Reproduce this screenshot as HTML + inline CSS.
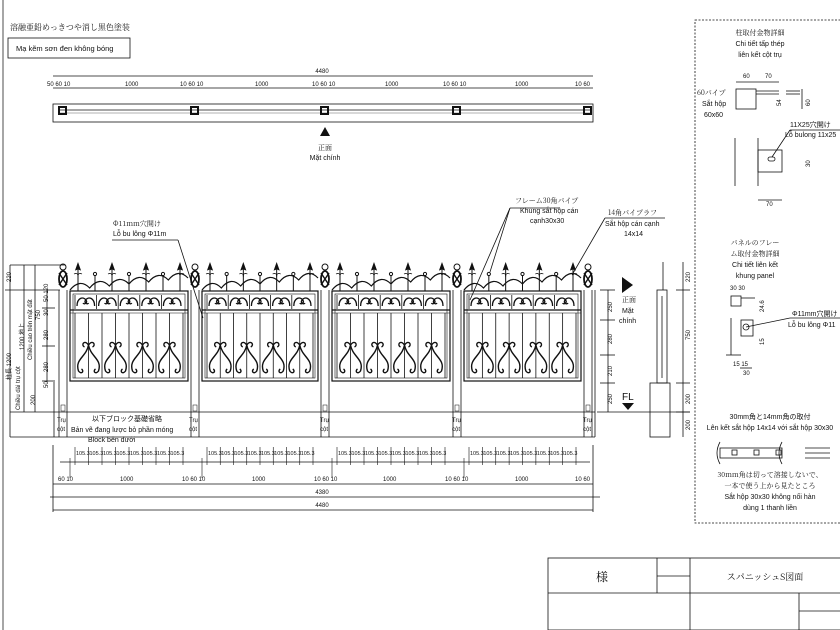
<!DOCTYPE html>
<html><head><meta charset="utf-8"><style>
html,body{margin:0;padding:0;background:#fff;}
svg{display:block;font-family:"Liberation Sans","Noto Sans CJK JP",sans-serif;}
.t{font-size:7px;fill:#111;}
.s{font-size:6px;fill:#111;}
.j{font-family:"Noto Serif CJK SC","Liberation Serif",serif;}
</style></head><body>
<svg id="d" width="840" height="630" viewBox="0 0 840 630" xmlns="http://www.w3.org/2000/svg">
<g stroke="#111" fill="none" stroke-width="0.8">
<line x1="3" y1="0" x2="3" y2="630" stroke="#888" stroke-width="1.5"/>
<rect x="8" y="38" width="122" height="20"/>
<line x1="53" y1="76" x2="593" y2="76"/>
<line x1="53" y1="88" x2="593" y2="88"/>
<rect x="53" y="104" width="540" height="18"/>
<line x1="60" y1="110" x2="590" y2="110"/>
<line x1="60" y1="113" x2="590" y2="113" stroke="#999"/>
<rect x="695" y="20" width="150" height="503" stroke-dasharray="2,1.5"/>
<rect x="548" y="558" width="300" height="72"/>
<line x1="548" y1="593" x2="840" y2="593"/>
<line x1="657" y1="558" x2="657" y2="593"/>
<line x1="690" y1="558" x2="690" y2="630"/>
<line x1="657" y1="576" x2="690" y2="576"/>
<line x1="799" y1="593" x2="799" y2="630"/>
<line x1="799" y1="611" x2="840" y2="611"/>
<line x1="10" y1="412" x2="595" y2="412"/>
<line x1="10" y1="437" x2="595" y2="437"/>
<line x1="54" y1="382" x2="54" y2="437"/>
<line x1="595" y1="290" x2="595" y2="437"/>
<line x1="10" y1="265" x2="10" y2="437"/>
<line x1="10" y1="265" x2="65" y2="265"/>
<line x1="24" y1="265" x2="24" y2="412"/>
<line x1="35" y1="265" x2="35" y2="412"/>
<line x1="47" y1="290" x2="47" y2="382"/>
<line x1="5" y1="290" x2="60" y2="290"/>
<line x1="42" y1="308" x2="55" y2="308"/>
<line x1="42" y1="346" x2="55" y2="346"/>
<line x1="42" y1="381" x2="55" y2="381"/>
<line x1="60" y1="462" x2="590" y2="462"/>
<line x1="53" y1="484" x2="593" y2="484"/>
<line x1="50" y1="497" x2="600" y2="497"/>
<line x1="53" y1="510" x2="593" y2="510"/>
<line x1="53" y1="445" x2="53" y2="512"/>
<line x1="593" y1="445" x2="593" y2="512"/>
<line x1="663" y1="262" x2="663" y2="290"/>
<rect x="657" y="290" width="10" height="93"/>
<line x1="662" y1="296" x2="662" y2="378"/>
<rect x="650" y="383" width="20" height="54"/>
<line x1="683" y1="262" x2="683" y2="437"/>
<line x1="676" y1="290" x2="690" y2="290"/>
<line x1="676" y1="383" x2="690" y2="383"/>
<line x1="676" y1="412" x2="690" y2="412"/>
<line x1="600" y1="290" x2="615" y2="290"/>
<line x1="608" y1="290" x2="608" y2="412"/>
<line x1="600" y1="320" x2="615" y2="320"/>
<line x1="600" y1="355" x2="615" y2="355"/>
<line x1="600" y1="383" x2="615" y2="383"/>
<line x1="597" y1="412" x2="690" y2="412"/>
<line x1="178" y1="240" x2="203" y2="318"/>
<line x1="510" y1="208" x2="470" y2="300"/>
<line x1="510" y1="208" x2="490" y2="272"/>
<line x1="510" y1="208" x2="560" y2="208"/>
<line x1="605" y1="218" x2="572" y2="275"/>
<line x1="605" y1="218" x2="665" y2="218"/>
<line x1="112" y1="240" x2="178" y2="240"/>
<line x1="736" y1="82" x2="779" y2="82"/>
<rect x="736" y="89" width="20" height="20"/>
<line x1="756" y1="91" x2="779" y2="91"/>
<line x1="756" y1="94" x2="779" y2="94"/>
<line x1="786" y1="91" x2="800" y2="91"/><line x1="786" y1="94" x2="800" y2="94"/>
<line x1="802" y1="89" x2="802" y2="109"/>
<line x1="735" y1="138" x2="735" y2="186"/><line x1="758" y1="138" x2="758" y2="186"/>
<rect x="758" y="150" width="24" height="22"/>
<rect x="768" y="157" width="7" height="4" rx="2"/>
<line x1="772" y1="157" x2="790" y2="130"/>
<line x1="790" y1="130" x2="840" y2="130"/>
<line x1="758" y1="200" x2="782" y2="200"/>
<rect x="731" y="296" width="10" height="10"/>
<line x1="741" y1="298" x2="755" y2="298"/>
<line x1="731" y1="318" x2="731" y2="355"/>
<rect x="741" y="320" width="12" height="16"/>
<circle cx="746" cy="327" r="3"/>
<line x1="746" y1="327" x2="790" y2="318"/>
<line x1="790" y1="318" x2="840" y2="318"/>
<line x1="726" y1="355" x2="741" y2="355"/>
<line x1="740" y1="368" x2="752" y2="368"/>
<rect x="720" y="448" width="62" height="10"/>
<path d="M720 442 q-6 11 0 22 M782 442 q-6 11 0 22"/>
<rect x="732" y="450" width="5" height="5"/><rect x="754" y="450" width="5" height="5"/><rect x="776" y="450" width="5" height="5"/>
<line x1="805" y1="448" x2="830" y2="448"/><line x1="805" y1="453" x2="830" y2="453"/><line x1="805" y1="458" x2="830" y2="458"/>
</g>
<g id="orn" stroke="#111" fill="none" stroke-width="1"></g>
<polygon points="320,136 330,136 325,127" fill="#111"/>
<polygon points="622,277 622,293 633,285" fill="#111"/>
<polygon points="622,403 634,403 628,410" fill="#111"/>

<g class="t">
<text x="10" y="30" class="j" style="font-size:8px">溶融亜鉛めっきつや消し黒色塗装</text>
<text x="16" y="51" style="font-size:7.5px">Mạ kẽm sơn đen không bóng</text>
<text x="322" y="73" class="s" text-anchor="middle">4480</text>
<text x="47" y="86" class="s">50 60 10</text>
<text x="125" y="86" class="s">1000</text><text x="180" y="86" class="s">10 60 10</text>
<text x="255" y="86" class="s">1000</text><text x="312" y="86" class="s">10 60 10</text>
<text x="385" y="86" class="s">1000</text><text x="443" y="86" class="s">10 60 10</text>
<text x="515" y="86" class="s">1000</text><text x="575" y="86" class="s">10 60</text>
<text x="325" y="150" class="j" text-anchor="middle">正面</text>
<text x="325" y="160" text-anchor="middle">Mặt chính</text>
<text x="113" y="226" class="j">Φ11mm穴開け</text>
<text x="113" y="236">Lỗ bu lông Φ11m</text>
<text x="515" y="203" class="j">フレーム30角パイプ</text>
<text x="520" y="213">Khung sắt hộp cán</text>
<text x="530" y="223">cạnh30x30</text>
<text x="608" y="215" class="j">14角パイプラフ</text>
<text x="605" y="226">Sắt hộp cán cạnh</text>
<text x="624" y="236">14x14</text>
<text x="622" y="302" class="j">正面</text>
<text x="622" y="313">Mặt</text><text x="619" y="323">chính</text>
<text x="622" y="400" style="font-size:10px">FL</text>
<text x="92" y="421">以下ブロック基礎省略</text>
<text x="71" y="432">Bản vẽ đang lược bỏ phần móng</text>
<text x="88" y="442">Block bên dưới</text>
<text x="57" y="422" class="s">Trụ</text><text x="57" y="431" class="s">cột</text>
<text x="189" y="422" class="s">Trụ</text><text x="189" y="431" class="s">cột</text>
<text x="320" y="422" class="s">Trụ</text><text x="320" y="431" class="s">cột</text>
<text x="452" y="422" class="s">Trụ</text><text x="452" y="431" class="s">cột</text>
<text x="583" y="422" class="s">Trụ</text><text x="583" y="431" class="s">cột</text>
<text x="322" y="494" class="s" text-anchor="middle">4380</text>
<text x="322" y="507" class="s" text-anchor="middle">4480</text>
<text x="120" y="481" class="s">1000</text><text x="252" y="481" class="s">1000</text>
<text x="383" y="481" class="s">1000</text><text x="515" y="481" class="s">1000</text>
<text x="58" y="481" class="s">60 10</text><text x="182" y="481" class="s">10 60 10</text>
<text x="314" y="481" class="s">10 60 10</text><text x="445" y="481" class="s">10 60 10</text>
<text x="575" y="481" class="s">10 60</text>
<text x="760" y="35" class="j" text-anchor="middle">柱取付金物詳細</text>
<text x="760" y="46" text-anchor="middle">Chi tiết tấp thép</text>
<text x="760" y="57" text-anchor="middle">liên kết cột trụ</text>
<text x="743" y="78" class="s">60</text><text x="765" y="78" class="s">70</text>
<text x="697" y="95" class="j">60パイプ</text>
<text x="702" y="106">Sắt hộp</text><text x="704" y="117">60x60</text>
<text x="790" y="127">11X25穴開け</text>
<text x="785" y="137">Lỗ bulong 11x25</text>
<text x="766" y="206" class="s">70</text>
<text x="755" y="245" class="j" text-anchor="middle">パネルのフレー</text>
<text x="755" y="256" class="j" text-anchor="middle">ム取付金物詳細</text>
<text x="755" y="267" text-anchor="middle">Chi tiết liên kết</text>
<text x="755" y="278" text-anchor="middle">khung panel</text>
<text x="730" y="290" class="s">30 30</text>
<text x="792" y="316">Φ11mm穴開け</text>
<text x="788" y="327">Lỗ bu lông Φ11</text>
<text x="733" y="366" class="s">15 15</text><text x="743" y="375" class="s">30</text>
<text x="770" y="419" text-anchor="middle">30mm角と14mm角の取付</text>
<text x="770" y="430" text-anchor="middle">Lên kết sắt hộp 14x14 với sắt hộp 30x30</text>
<text x="770" y="477" class="j" text-anchor="middle">30mm角は切って溶接しないで、</text>
<text x="770" y="488" class="j" text-anchor="middle">一本で使う上から見たところ</text>
<text x="770" y="499" text-anchor="middle">Sắt hộp 30x30 không nối hàn</text>
<text x="770" y="510" text-anchor="middle">dùng 1 thanh liền</text>
<text x="602" y="581" class="j" style="font-size:12px" text-anchor="middle">様</text>
<text x="765" y="580" class="j" style="font-size:9px" text-anchor="middle">スパニッシュS図面</text>
</g>
<g class="s">
<text transform="translate(11,282) rotate(-90)">220</text>
<text transform="translate(11,380) rotate(-90)">柱長 1200</text>
<text transform="translate(20,410) rotate(-90)">Chiều dài trụ cột</text>
<text transform="translate(24,350) rotate(-90)">1200 地上</text>
<text transform="translate(32,360) rotate(-90)">Chiều cao trên mặt đất</text>
<text transform="translate(40,320) rotate(-90)">750</text>
<text transform="translate(35,405) rotate(-90)">200</text>
<text transform="translate(48,302) rotate(-90)">50 120</text>
<text transform="translate(48,316) rotate(-90)">30</text>
<text transform="translate(48,340) rotate(-90)">280</text>
<text transform="translate(48,372) rotate(-90)">280</text>
<text transform="translate(48,388) rotate(-90)">50</text>
<text transform="translate(612,312) rotate(-90)">250</text>
<text transform="translate(612,344) rotate(-90)">280</text>
<text transform="translate(612,376) rotate(-90)">210</text>
<text transform="translate(612,404) rotate(-90)">250</text>
<text transform="translate(690,282) rotate(-90)">220</text>
<text transform="translate(690,340) rotate(-90)">750</text>
<text transform="translate(690,404) rotate(-90)">200</text>
<text transform="translate(690,430) rotate(-90)">200</text>
<text transform="translate(781,106) rotate(-90)">54</text>
<text transform="translate(810,106) rotate(-90)">60</text>
<text transform="translate(810,167) rotate(-90)">30</text>
<text transform="translate(764,312) rotate(-90)">24.6</text>
<text transform="translate(764,345) rotate(-90)">15</text>
</g>
<g id="bd" class="s"></g>
</svg>
<script>
var ns="http://www.w3.org/2000/svg",o=document.getElementById('orn');
function el(t,a){var e=document.createElementNS(ns,t);for(var k in a)e.setAttribute(k,a[k]);o.appendChild(e);return e;}
var posts=[63,195,325,457,588];
posts.forEach(function(x){
 el('line',{x1:x-4,y1:290,x2:x-4,y2:437,'stroke-width':0.8});
 el('line',{x1:x+4,y1:290,x2:x+4,y2:437,'stroke-width':0.8});
 el('circle',{cx:x,cy:267,r:3});
 el('ellipse',{cx:x,cy:279,rx:4,ry:8,'stroke-width':1.8});
 el('path',{d:'M'+(x-4)+' 273 L'+(x+4)+' 285 M'+(x+4)+' 273 L'+(x-4)+' 285','stroke-width':1.4});
 el('rect',{x:x-2,y:405,width:4,height:6,'stroke-width':0.5});
 el('rect',{x:x-4,y:107,width:7,height:7,'stroke-width':2});
});
for(var i=0;i<4;i++){
 var a=posts[i]+7,b=posts[i+1]-7,w=b-a;
 el('rect',{x:a,y:291,width:w,height:90,'stroke-width':1.2});
 el('rect',{x:a+3,y:294,width:w-6,height:84,'stroke-width':0.6});
 el('line',{x1:a,y1:310,x2:b,y2:310,'stroke-width':1.2});
 el('line',{x1:a,y1:313,x2:b,y2:313,'stroke-width':0.6});
 for(var k=0;k<5;k++){var cx=a+5+(w-10)*(k+0.5)/5,hw=(w-10)/10;
  el('line',{x1:cx-hw,y1:295,x2:cx-hw,y2:309,'stroke-width':0.8});
  el('path',{d:'M'+(cx-hw+2)+' 306 c0 -8 6 -10 9 -6 c2 3 -2 5 -3 3 M'+(cx+hw-2)+' 306 c0 -8 -6 -10 -9 -6 c-2 3 2 5 3 3','stroke-width':1.3});
 }
 for(var k=0;k<9;k++){var bx=a+5+(w-10)*k/8;el('line',{x1:bx,y1:313,x2:bx,y2:378,'stroke-width':0.8});}
 for(var k=0;k<4;k++){var cx=a+5+(w-10)*(k+0.5)/4;
  el('path',{d:'M'+cx+' 345 c-4 -6 -8 0 -4 2 M'+cx+' 345 c4 -6 8 0 4 2 M'+cx+' 345 c-2 12 -14 14 -10 26 c3 4 6 0 3 -2 M'+cx+' 345 c2 12 14 14 10 26 c-3 4 -6 0 -3 -2','stroke-width':1.4});
 }
 for(var k=0;k<7;k++){var sx=a+8+(w-16)*k/6;
  if(k%2==0){el('line',{x1:sx,y1:266,x2:sx,y2:291});el('path',{d:'M'+sx+' 263 l-2.5 7 l2.5 -1 l2.5 1 z M'+(sx-4)+' 274 q4 -2 4 3 q0 -5 4 -3',fill:'#111','stroke-width':0.7});}
  else{el('line',{x1:sx,y1:275,x2:sx,y2:291});el('circle',{cx:sx,cy:274,r:1.6});}
 }
 el('path',{d:'M'+a+' 290 q'+(w/12)+' -12 '+(w/6)+' -2 q'+(w/12)+' -12 '+(w/6)+' -2 q'+(w/12)+' -12 '+(w/6)+' -2 q'+(w/12)+' -12 '+(w/6)+' -2 q'+(w/12)+' -12 '+(w/6)+' -2 q'+(w/12)+' -12 '+(w/6)+' -2','stroke-width':1.2});
 el('line',{x1:a,y1:458,x2:a,y2:478,'stroke-width':0.6});
 for(var k=0;k<9;k++){var bx=a+5+(w-10)*k/8;el('line',{x1:bx,y1:447,x2:bx,y2:465,'stroke-width':0.6});}
}
var bd=document.getElementById('bd');
for(var i=0;i<4;i++){var a=posts[i]+7,b=posts[i+1]-7,w=b-a;
 for(var k=0;k<8;k++){var t=document.createElementNS(ns,'text');t.setAttribute('x',a+5+(w-10)*k/8+1);t.setAttribute('y',455);t.setAttribute('style','font-size:5.5px');t.textContent='105.3';bd.appendChild(t);}
}
</script>
</body></html>
